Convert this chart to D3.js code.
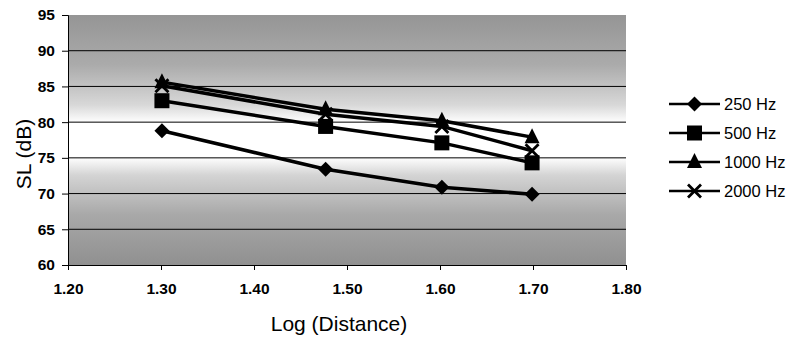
<!DOCTYPE html>
<html>
<head>
<meta charset="utf-8">
<script src="https://cdn.jsdelivr.net/npm/d3@7"></script>
<style>
  body { margin: 0; background: #fff; }
  text { font-family: "Liberation Sans", Arial, sans-serif; fill: #000; }
  .tick text { font-size: 15.5px; font-weight: bold; }
</style>
</head>
<body>
<svg id="chart"></svg>
<script>
// data
const logDistance = [1.301, 1.477, 1.602, 1.699];
const seriesNames = ["250 Hz", "500 Hz", "1000 Hz", "2000 Hz"];
const hz250 = [78.8, 73.4, 70.9, 69.9];
const hz500 = [83.0, 79.4, 77.1, 74.3];
const hz1000 = [85.6, 81.8, 80.2, 77.9];
const hz2000 = [85.1, 81.1, 79.4, 76.0];
const xTicks = [1.2, 1.3, 1.4, 1.5, 1.6, 1.7, 1.8];
const yTicks = [60, 65, 70, 75, 80, 85, 90, 95];

const series = [hz250, hz500, hz1000, hz2000];
const markers = ["diamond", "square", "triangle", "cross"];

const w = 793, h = 339;
const m = { left: 68, right: 167, top: 15, bottom: 74 };

const svg = d3.select("#chart").attr("width", w).attr("height", h);

const x = d3.scaleLinear().domain([1.2, 1.8]).range([m.left, w - m.right]);
const y = d3.scaleLinear().domain([60, 95]).range([h - m.bottom, m.top]);

// plot background gradient (dark top & bottom, white band in the middle)
const grad = svg.append("defs").append("linearGradient")
  .attr("id", "bg").attr("x1", 0).attr("y1", 0).attr("x2", 0).attr("y2", 1);
[[0, "#959595"], [0.2, "#ababab"], [0.36, "#d8d8d8"], [0.43, "#ffffff"],
 [0.57, "#ffffff"], [0.64, "#d4d4d4"], [0.8, "#a8a8a8"], [1, "#909090"]]
  .forEach(([o, c]) => grad.append("stop").attr("offset", o).attr("stop-color", c));

svg.append("rect")
  .attr("x", x(1.2)).attr("y", y(95))
  .attr("width", x(1.8) - x(1.2)).attr("height", y(60) - y(95))
  .attr("fill", "url(#bg)");

// gridlines
svg.append("g").selectAll("line")
  .data(yTicks.filter(d => d > 60 && d < 95))
  .join("line")
  .attr("x1", x(1.2)).attr("x2", x(1.8))
  .attr("y1", d => y(d)).attr("y2", d => y(d))
  .attr("stroke", "#000").attr("stroke-width", 1);

// axes
const xAxis = d3.axisBottom(x).tickValues(xTicks).tickFormat(d3.format(".2f")).tickSize(5).tickPadding(13);
const yAxis = d3.axisLeft(y).tickValues(yTicks).tickSize(6).tickPadding(7);

svg.append("g")
  .attr("transform", `translate(0,${y(60)})`)
  .call(xAxis)
  .call(g => g.select(".domain").attr("stroke", "#000"));

svg.append("g")
  .attr("transform", `translate(${x(1.2)},0)`)
  .call(yAxis)
  .call(g => g.select(".domain").attr("stroke", "#000"));

// marker drawing
function drawMarker(g, type, cx, cy) {
  if (type === "diamond") {
    g.append("path").attr("d", `M${cx},${cy - 7.5}L${cx + 7.5},${cy}L${cx},${cy + 7.5}L${cx - 7.5},${cy}Z`).attr("fill", "#000");
  } else if (type === "square") {
    g.append("rect").attr("x", cx - 7.5).attr("y", cy - 7.5).attr("width", 15).attr("height", 15).attr("fill", "#000");
  } else if (type === "triangle") {
    g.append("path").attr("d", `M${cx},${cy - 9}L${cx + 7.5},${cy + 6}L${cx - 7.5},${cy + 6}Z`).attr("fill", "#000");
  } else {
    g.append("path").attr("d", `M${cx - 6.5},${cy - 6.5}L${cx + 6.5},${cy + 6.5}M${cx + 6.5},${cy - 6.5}L${cx - 6.5},${cy + 6.5}`)
      .attr("stroke", "#000").attr("stroke-width", 2.8).attr("fill", "none");
  }
}

const line = d3.line().x((d, i) => x(logDistance[i])).y(d => y(d));

series.forEach((vals, si) => {
  const g = svg.append("g");
  g.append("path").attr("d", line(vals))
    .attr("fill", "none").attr("stroke", "#000").attr("stroke-width", 3.5);
  vals.forEach((v, i) => drawMarker(g, markers[si], x(logDistance[i]), y(v)));
});

// legend
const legend = svg.append("g");
seriesNames.forEach((name, i) => {
  const ly = 104 + i * 29;
  legend.append("line").attr("x1", 669).attr("x2", 720).attr("y1", ly).attr("y2", ly)
    .attr("stroke", "#000").attr("stroke-width", 2.5);
  drawMarker(legend, markers[i], 694.5, ly);
  legend.append("text").attr("x", 724).attr("y", ly + 6)
    .style("font-size", "16.5px").text(name);
});

// axis titles
svg.append("text")
  .attr("transform", `translate(31,154) rotate(-90)`)
  .attr("text-anchor", "middle")
  .style("font-size", "21px")
  .text("SL (dB)");

svg.append("text")
  .attr("x", 339)
  .attr("y", 331)
  .attr("text-anchor", "middle")
  .style("font-size", "21px")
  .text("Log (Distance)");
</script>
</body>
</html>
